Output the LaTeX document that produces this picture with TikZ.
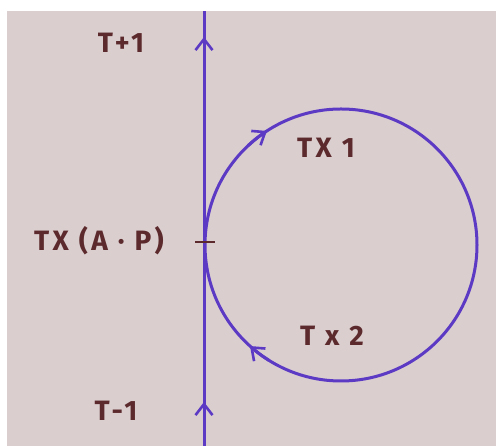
\documentclass[tikz,border=0pt]{standalone}
\usepackage{fontspec}
\setmainfont{Fira Sans}
\newfontfamily\handfont[LetterSpace=12]{Fira Sans}
\usetikzlibrary{arrows.meta}
\definecolor{paper}{RGB}{218,206,207}
\definecolor{ink}{RGB}{92,58,196}
\definecolor{pen}{RGB}{92,42,44}
\tikzset{
  curve/.style={draw=ink, line width=3pt},
  barb/.style={draw=ink, line width=3pt, -{Straight Barb[length=11pt,width=17pt,line width=2.6pt]}},
  lbl/.style={text=pen, font=\handfont\bfseries\fontsize{28}{32}\selectfont, inner sep=0pt}
}
\begin{document}
\begin{tikzpicture}[x=1pt,y=1pt]
\useasboundingbox (0,0) rectangle (496,446);
\fill[white] (0,0) rectangle (496,446);
\fill[paper] (7,0) rectangle (496,435);
% main vertical line
\coordinate (top) at (204,435);
\coordinate (bot) at (204,0);
\draw[curve] (bot) -- (top);
% circle
\coordinate (c) at (341,201);
\draw[curve] (c) circle (136);
% arrows on vertical line
\coordinate (a1s) at (204,385);
\coordinate (a1e) at (204,409);
\coordinate (a2s) at (204,20);
\coordinate (a2e) at (204,44);
\draw[barb] (a1s) -- (a1e);
\draw[barb] (a2s) -- (a2e);
% arrows on circle
\draw[barb] (c) ++(133:136) arc[start angle=133, end angle=123, radius=136];
\draw[barb] (c) ++(238:136) arc[start angle=238, end angle=228, radius=136];
% tick mark
\coordinate (t1) at (195,204);
\coordinate (t2) at (215,204);
\draw[pen, line width=2.4pt] (t1) -- (t2);
% labels
\node[lbl] (tp1) at (121,403) {T+1};
\node[lbl] (txap) at (99,205) {TX (A · P)};
\node[lbl] (tm1) at (116,35) {T-1};
\node[lbl] (tx1) at (326,298) {TX 1};
\node[lbl] (tx2) at (332,110) {T x 2};
\end{tikzpicture}
\end{document}
